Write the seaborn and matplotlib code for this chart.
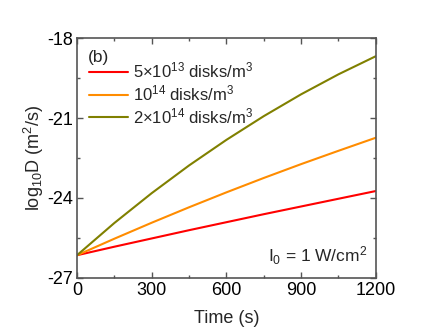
import numpy as np
import pandas as pd
import seaborn as sns
import matplotlib.pyplot as plt
from matplotlib.ticker import MultipleLocator

# values
time_s = [0, 150, 300, 450, 600, 750, 900, 1050, 1200]
logd_5e13 = [-26.15, -25.83, -25.52, -25.21, -24.91, -24.61, -24.32, -24.03, -23.74]
logd_1e14 = [-26.15, -25.53, -24.93, -24.35, -23.79, -23.25, -22.73, -22.23, -21.74]
logd_2e14 = [-26.15, -24.94, -23.82, -22.78, -21.82, -20.93, -20.11, -19.36, -18.68]
labels = [r'5$\times$10$^{13}$ disks/m$^3$', r'10$^{14}$ disks/m$^3$', r'2$\times$10$^{14}$ disks/m$^3$']
colors = ['#ff0000', '#ff8c00', '#808000']

df = pd.DataFrame({
    'Time': time_s * 3,
    'logD': logd_5e13 + logd_1e14 + logd_2e14,
    'series': [labels[0]] * len(time_s) + [labels[1]] * len(time_s) + [labels[2]] * len(time_s),
})

sns.set_theme(style='ticks')
plt.rcParams['font.family'] = ['Liberation Sans', 'DejaVu Sans']
plt.rcParams['mathtext.fontset'] = 'custom'
plt.rcParams['mathtext.rm'] = 'Liberation Sans'
plt.rcParams['mathtext.it'] = 'Liberation Sans'
plt.rcParams['axes.unicode_minus'] = False

fig = plt.figure(figsize=(4.36, 3.34), dpi=100)
ax = fig.add_axes([0.1766, 0.168, 0.6854, 0.718])

sns.lineplot(data=df, x='Time', y='logD', hue='series', palette=colors,
             hue_order=labels, linewidth=1.5, ax=ax)

ax.set_xlim(0, 1200)
ax.set_ylim(-27, -18)
ax.xaxis.set_major_locator(MultipleLocator(300))
ax.xaxis.set_minor_locator(MultipleLocator(150))
ax.yaxis.set_major_locator(MultipleLocator(3))
ax.yaxis.set_minor_locator(MultipleLocator(1.5))
ax.tick_params(which='both', direction='in', top=True, right=True, labelsize=13, colors='#555555',
               labelcolor='black', pad=3)
ax.tick_params(which='major', length=4, width=1)
ax.tick_params(which='minor', length=2.5, width=1)
for s in ax.spines.values():
    s.set_color('#555555')
    s.set_linewidth(1.2)

ax.set_xlabel('Time (s)', fontsize=13, labelpad=8)
ax.set_ylabel(r'log$_{10}$D (m$^2$/s)', fontsize=13, labelpad=1)

leg = ax.legend(loc='upper left', bbox_to_anchor=(0.0, 0.955), frameon=False, fontsize=12,
                handlelength=2.35, handletextpad=0.3, labelspacing=0.18, borderaxespad=0.3)
ax.text(0.035, 0.952, '(b)', transform=ax.transAxes, fontsize=12.5, va='top', ha='left')
ax.text(0.97, 0.045, r'I$_0$ = 1 W/cm$^2$', transform=ax.transAxes, fontsize=12.5, va='bottom', ha='right')

fig.savefig('out.png', dpi=100)
